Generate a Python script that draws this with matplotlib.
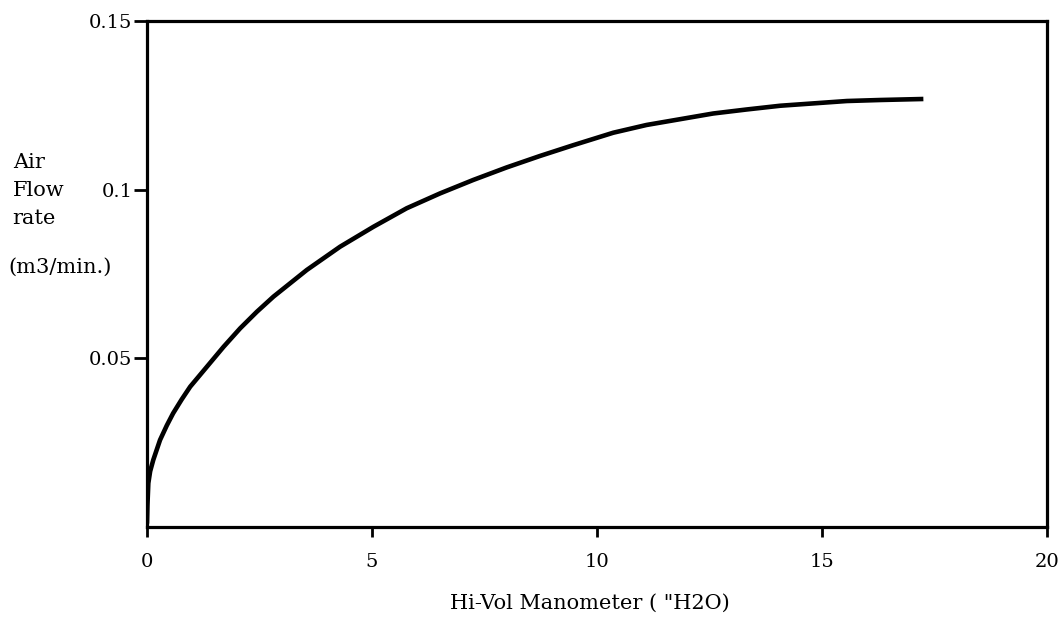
#!/usr/bin/env python3
import matplotlib
matplotlib.use("Agg")
import matplotlib.pyplot as plt

# Curve (manometer inches H2O vs air flow m3/min)
manometer = [0.0, 0.01, 0.03, 0.07, 0.14, 0.29, 0.44, 0.58, 0.77, 0.96,
             1.33, 1.70, 2.07, 2.44, 2.81, 3.55, 4.29, 5.03, 5.77, 6.51,
             7.25, 7.99, 8.73, 9.47, 10.36, 11.10, 11.84, 12.58, 13.33,
             14.07, 14.81, 15.55, 16.29, 17.25]
flow_rate = [0.001, 0.0065, 0.0130, 0.0165, 0.0199, 0.0258, 0.0301, 0.0337,
             0.0378, 0.0416, 0.0475, 0.0534, 0.0589, 0.0638, 0.0683, 0.0762,
             0.0831, 0.0890, 0.0945, 0.0989, 0.1029, 0.1066, 0.1100, 0.1132,
             0.1169, 0.1192, 0.1209, 0.1226, 0.1238, 0.1249, 0.1256, 0.1263,
             0.1266, 0.1269]

x_ticks = [0, 5, 10, 15, 20]
x_tick_labels = ["0", "5", "10", "15", "20"]
y_ticks = [0.05, 0.1, 0.15]
y_tick_labels = ["0.05", "0.1", "0.15"]

plt.rcParams['font.family'] = ['DejaVu Serif']

fig = plt.figure(figsize=(10.59, 6.2), dpi=100)
ax = fig.add_axes([0.1388, 0.15, 0.85, 0.816])

ax.plot(manometer, flow_rate, color='black', linewidth=3.3,
        solid_capstyle='butt', solid_joinstyle='round')

ax.set_xlim(0, 20)
ax.set_ylim(0, 0.15)
ax.set_xticks(x_ticks)
ax.set_xticklabels(x_tick_labels, fontsize=14)
ax.set_yticks(y_ticks)
ax.set_yticklabels(y_tick_labels, fontsize=14)

for s in ax.spines.values():
    s.set_linewidth(2.3)
ax.tick_params(axis='x', direction='out', length=7, width=2, pad=12)
ax.tick_params(axis='y', direction='out', length=9.5, width=2, pad=1)

# y label is drawn as separate text left of the axis
fig.text(0.012, 0.692, "Air\nFlow\nrate", fontsize=15, ha='left', va='center',
         linespacing=1.6)
fig.text(0.008, 0.569, "(m3/min.)", fontsize=15, ha='left', va='center')
fig.text(0.557, 0.027, 'Hi-Vol Manometer ( "H2O)', fontsize=15,
         ha='center', va='center')

fig.savefig("out.png", dpi=100)
